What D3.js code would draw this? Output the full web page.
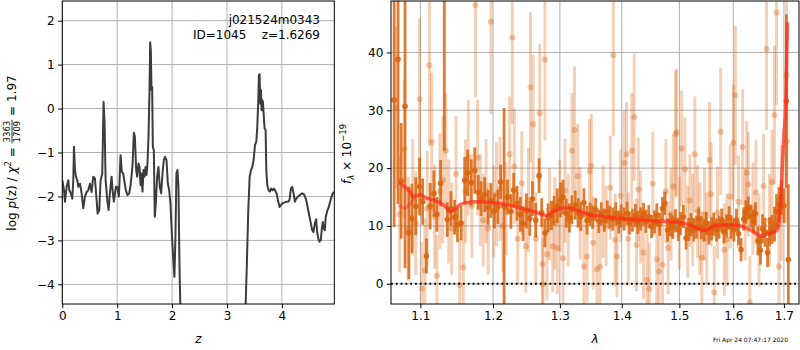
<!DOCTYPE html>
<html>
<head>
<meta charset="utf-8">
<script src="https://cdn.jsdelivr.net/npm/d3@7/dist/d3.min.js"></script>
<style>
  body { margin: 0; background: #fff; }
  svg { display: block; }
  text { font-family: "DejaVu Sans", sans-serif; fill: #000; }
</style>
</head>
<body>
<svg id="chart" width="800" height="350"></svg>
<script>
// ---- redshift probability curve ----
const zGrid = [0.000,0.031,0.049,0.079,0.109,0.128,0.158,0.182,0.200,0.213,0.231,0.249,0.273,0.291,0.322,0.352,0.382,0.413,0.443,0.473,
  0.504,0.534,0.564,0.595,0.625,0.643,0.673,0.698,0.728,0.752,0.770,0.789,0.819,0.843,0.867,0.898,0.916,0.940,0.976,1.001,
  1.031,1.061,1.085,1.110,1.128,1.158,1.188,1.219,1.249,1.279,1.304,1.322,1.346,1.364,1.389,1.407,1.425,1.443,1.461,1.479,
  1.498,1.516,1.534,1.552,1.570,1.589,1.601,1.613,1.625,1.637,1.649,1.667,1.685,1.704,1.728,1.752,1.776,1.801,1.825,1.849,
  1.873,1.898,1.922,1.946,1.970,1.995,2.019,2.043,2.061,2.079,2.098,2.116,2.134,2.152,2.180,2.250,2.400,2.600,2.800,3.000,
  3.150,3.250,3.310,3.340,3.364,3.388,3.413,3.437,3.461,3.485,3.510,3.534,3.552,3.570,3.582,3.594,3.607,3.619,3.631,3.643,
  3.655,3.667,3.685,3.704,3.716,3.734,3.758,3.782,3.807,3.831,3.855,3.879,3.904,3.928,3.958,3.982,4.006,4.043,4.079,4.116,
  4.140,4.164,4.188,4.213,4.237,4.261,4.297,4.334,4.370,4.406,4.443,4.479,4.516,4.552,4.576,4.601,4.625,4.643,4.661,4.685,
  4.710,4.728,4.746,4.764,4.782,4.800,4.831,4.855,4.879,4.904,4.928,4.950];
const logPz = [-1.63,-1.86,-2.12,-1.78,-1.63,-1.86,-1.93,-2.05,-1.63,-0.87,-1.40,-1.55,-1.63,-1.78,-1.71,-1.93,-2.27,-2.00,-1.90,-1.86,
  -1.71,-1.90,-1.55,-1.59,-2.08,-2.39,-2.31,-1.63,-1.48,0.15,-0.34,-1.63,-2.08,-2.31,-1.93,-1.55,-1.86,-2.12,-1.78,-1.78,
  -2.00,-1.06,-1.44,-1.48,-1.63,-1.86,-1.97,-1.93,-1.70,-1.30,-0.55,-0.64,-1.40,-1.55,-1.25,-1.33,-1.74,-1.48,-1.89,-1.40,
  -1.55,-1.33,-1.51,-1.25,-0.64,0.42,1.51,1.32,0.42,0.49,-0.87,-0.95,-2.46,-2.16,-1.55,-1.33,-1.78,-1.93,-1.48,-1.17,
  -1.10,-1.17,-1.70,-1.85,-2.16,-2.84,-3.37,-3.83,-2.92,-1.48,-1.40,-1.78,-3.52,-4.60,-6.50,-8.90,-11.2,-12.5,-13.0,-12.1,
  -10.4,-8.20,-6.00,-4.47,-3.45,-2.31,-1.55,-1.40,-1.33,-1.17,-0.83,-0.76,-0.42,0.19,0.76,0.78,0.11,0.42,-0.04,0.19,
  0.15,-0.11,-0.45,-0.49,-1.40,-1.74,-1.86,-1.89,-1.82,-1.86,-1.82,-1.87,-1.93,-2.08,-2.24,-2.20,-2.16,-2.14,-2.12,-2.12,
  -2.08,-1.82,-1.78,-1.93,-2.12,-2.05,-2.00,-1.96,-1.93,-1.96,-2.08,-2.31,-2.54,-2.77,-2.81,-2.61,-2.52,-2.81,-2.95,-3.03,
  -2.99,-2.73,-2.58,-2.73,-2.77,-2.46,-2.31,-2.24,-2.12,-2.01,-1.93,-1.90];
const zTicks = [0, 1, 2, 3, 4];
const logPzTicks = [-4, -3, -2, -1, 0, 1, 2];

// ---- 1D spectrum, well-exposed beam ----
const darkLam = [1.066,1.071,1.075,1.080,1.085,1.089,1.094,1.099,1.103,1.108,
  1.113,1.118,1.122,1.127,1.132,1.136,1.141,1.146,1.150,1.155,
  1.160,1.164,1.169,1.174,1.179,1.183,1.188,1.193,1.197,1.202,
  1.207,1.211,1.216,1.221,1.226,1.230,1.235,1.240,1.244,1.249,
  1.254,1.258,1.263,1.268,1.272,1.277,1.282,1.287,1.291,1.296,
  1.301,1.305,1.310,1.315,1.319,1.324,1.329,1.333,1.338,1.343,
  1.348,1.352,1.357,1.362,1.366,1.371,1.376,1.380,1.385,1.390,
  1.395,1.399,1.404,1.409,1.413,1.418,1.423,1.427,1.432,1.437,
  1.441,1.446,1.451,1.456,1.460,1.465,1.470,1.474,1.479,1.484,
  1.488,1.493,1.498,1.502,1.507,1.512,1.517,1.521,1.526,1.531,
  1.535,1.540,1.545,1.549,1.554,1.559,1.563,1.568,1.573,1.578,
  1.582,1.587,1.592,1.596,1.601,1.606,1.610,1.615,1.620,1.624,
  1.629,1.634,1.639,1.643,1.648,1.653,1.657,1.662,1.667,1.671,
  1.676,1.681,1.685,1.690,1.695,1.700,1.705,1.709];
const darkFlux = [31.8,38.8,17.8,30.7,8.8,11.3,13.4,16.8,14.2,4.8,
  13.4,15.6,12.0,17.4,50.0,11.1,13.0,11.5,10.2,10.5,
  17.9,19.2,17.5,19.6,15.8,14.7,15.4,13.2,14.4,12.6,
  13.3,17.6,13.4,15.0,12.5,16.2,13.9,12.0,10.4,12.6,
  11.3,14.7,11.0,18.7,12.3,8.8,11.4,11.8,12.7,13.5,
  14.5,15.0,12.2,11.4,12.8,13.6,12.3,11.6,14.0,11.0,
  12.0,11.5,12.8,10.8,12.1,11.0,12.4,11.5,11.2,12.1,
  10.7,11.7,11.2,12.2,10.5,11.0,11.8,10.6,11.2,12.0,
  10.8,11.6,9.9,10.7,11.9,10.3,13.0,13.9,9.3,10.2,
  9.8,10.9,9.4,10.4,11.6,7.9,9.4,10.2,9.3,9.8,
  11.2,9.7,9.3,10.4,8.8,9.5,10.3,9.3,9.8,11.0,
  9.0,10.0,11.4,9.8,9.3,11.0,8.7,5.9,11.2,12.4,
  13.1,11.7,10.8,12.1,7.4,5.8,9.5,8.9,5.4,9.0,
  9.4,10.3,12.5,13.7,14.9,13.5,31.6,4.2];
const darkErr = [22,25,10,28,8,6,5,5,4,3,
  4,4,3,4,27,3,3,3,3,3,
  4,4,4,4,3,3,3,3,3,3,
  3,3,17,3,3,3,3,3,3,3,
  3,3,3,3,2.5,2.5,2.5,2.5,2.5,3,
  3,3,2.5,2.5,2.5,2.5,2.5,2.5,2.5,2.5,
  2,2,2,2,2,2,2,2,2,2,
  2,2,2,2,2,2,2,2,2,2,
  2,2,2,2,2,2,2,2,2,2,
  2,2,2,2,2,2,2,2,2,2,
  2,2,2,2,2,2,2,2,2,2,
  2,2,2,2,2,2,2,2,2,2,
  2,2,2,2,2.5,2.5,2.5,2.5,2.5,2.5,
  2.5,3,3,3,3,3,15,13];

// ---- 1D spectrum, noisier beam ----
const lightLam = [1.068,1.073,1.079,1.084,1.090,1.094,1.099,1.102,1.106,1.109,
  1.112,1.115,1.119,1.122,1.126,1.130,1.134,1.138,1.142,1.148,
  1.153,1.158,1.161,1.165,1.170,1.175,1.178,1.182,1.186,1.190,
  1.193,1.197,1.201,1.205,1.210,1.214,1.219,1.224,1.228,1.231,
  1.236,1.242,1.248,1.252,1.255,1.259,1.263,1.269,1.273,1.274,
  1.277,1.280,1.284,1.289,1.292,1.296,1.300,1.305,1.308,1.313,
  1.319,1.323,1.328,1.332,1.338,1.343,1.347,1.350,1.353,1.359,
  1.364,1.369,1.374,1.381,1.386,1.389,1.392,1.398,1.404,1.408,
  1.411,1.417,1.421,1.425,1.428,1.432,1.437,1.443,1.447,1.453,
  1.460,1.464,1.470,1.476,1.480,1.485,1.489,1.493,1.495,1.500,
  1.504,1.510,1.515,1.519,1.524,1.528,1.533,1.537,1.541,1.546,
  1.550,1.555,1.558,1.564,1.570,1.576,1.583,1.588,1.594,1.600,
  1.604,1.610,1.618,1.623,1.626,1.629,1.632,1.638,1.644,1.650,
  1.659,1.665,1.671,1.676,1.681,1.685,1.690,1.695,1.705,1.706];
const lightFlux = [30.5,12.0,23.3,9.5,15.0,10.5,31.9,-0.8,2.3,13.0,
  37.8,24.5,11.6,1.4,16.0,18.0,23.0,12.5,9.5,19.0,
  -0.2,2.8,16.0,21.8,13.5,48.2,21.8,14.5,11.0,16.0,
  9.5,45.3,12.5,15.5,16.4,10.0,13.0,22.4,42.6,20.3,
  7.8,17.4,6.5,14.5,34.0,27.6,7.8,29.5,3.4,-0.1,
  38.8,5.1,12.0,6.5,10.5,6.2,13.5,4.4,16.1,11.0,
  23.0,26.6,18.6,12.2,3.0,4.7,19.5,20.4,7.1,2.5,
  3.0,12.5,10.0,16.6,39.5,7.6,4.7,15.2,20.9,22.4,
  7.8,23.0,28.8,6.7,16.3,11.5,5.4,0.7,-0.9,17.3,
  4.2,2.1,3.3,16.0,6.2,12.0,16.8,25.9,26.2,10.5,
  23.4,19.8,9.0,14.4,11.0,22.4,12.5,9.5,4.5,12.0,
  7.8,21.4,15.5,-1.5,12.3,26.3,5.9,7.6,15.1,24.4,
  32.6,14.2,23.6,12.0,19.2,17.2,-3.2,13.0,15.8,7.5,
  16.9,40.6,11.0,17.6,29.2,46.9,3.0,14.0,36.1,24.6];
const lightErr = [14,10,12,9,10,9,14,8,9,10,
  14,12,9,7,10,11,10,9,8,10,
  8,8,9,10,9,16,10,8,8,9,
  8,16,8,9,9,8,8,10,15,10,
  8,9,8,9,13,12,8,12,8,8,
  14,8,8,8,8,8,8,8,9,8,
  10,11,9,8,8,8,9,9,8,8,
  8,8,7,9,14,8,7,8,9,9,
  8,10,11,8,9,8,8,8,8,9,
  8,8,8,9,8,8,9,11,11,8,
  10,9,8,8,8,10,8,8,8,8,
  8,10,9,8,8,11,8,8,9,10,
  12,8,10,8,9,9,8,8,9,8,
  9,14,8,9,12,16,9,10,15,14];

// ---- best-fit model ----
const modelLam = [1.0736,1.0801,1.0857,1.0909,1.0996,1.1085,1.1173,1.1262,1.1353,1.1398,1.1443,1.1535,1.1627,1.1720,1.1815,
  1.2006,1.2200,1.2395,1.2593,1.2743,1.2794,1.2896,1.3051,1.3160,1.3318,1.3478,1.3641,1.3859,1.4193,1.4537,
  1.4889,1.5118,1.5301,1.5453,1.5606,1.5794,1.5984,1.6176,1.6370,1.6534,1.6633,1.6765,1.6866,1.6900,1.6934,
  1.6967,1.7001,1.7035,1.7072];
const modelFlux = [17.4,16.7,16.0,15.1,15.4,14.8,14.5,14.0,13.1,12.5,12.7,13.7,14.0,14.2,14.2,
  14.0,13.7,13.1,12.5,11.9,11.8,12.5,13.1,13.1,12.5,11.9,11.7,11.4,11.1,10.9,
  10.7,10.4,9.7,9.2,9.9,10.2,10.2,9.9,9.1,8.3,8.5,8.8,9.4,10.5,14.5,
  20.3,26.0,30.6,45.0];
const modelLamAlt = [1.0736,1.0801,1.0857,1.0909];
const modelFluxAlt = [13.4,13.1,13.7,14.5];
const lamTicks = [1.1, 1.2, 1.3, 1.4, 1.5, 1.6, 1.7];
const fluxTicks = [0, 10, 20, 30, 40];

const svg = d3.select("#chart");
const minusFmt = d => (d < 0 ? "\u2212" + Math.abs(d) : String(d));

function frame(g, x0, x1, y0, y1) {
  g.append("rect").attr("x", x0).attr("y", y0).attr("width", x1 - x0).attr("height", y1 - y0)
    .attr("fill", "none").attr("stroke", "#000").attr("stroke-width", 1);
}
function styleAxis(sel) {
  sel.select(".domain").remove();
  sel.selectAll(".tick line").attr("stroke", "#000").attr("stroke-width", 1);
  sel.selectAll(".tick text").style("font-size", "12px").style("font-family", "DejaVu Sans, sans-serif").attr("fill", "#000");
}

// ================= left panel: p(z) =================
const LP = { x0: 62.3, x1: 334.3, y0: 1, y1: 304 };
const xZ = d3.scaleLinear().domain([0, 4.955]).range([LP.x0, LP.x1]);
const yP = d3.scaleLinear().domain([-4.448, 2.448]).range([LP.y1, LP.y0]);

svg.append("clipPath").attr("id", "clipL").append("rect")
  .attr("x", LP.x0).attr("y", LP.y0).attr("width", LP.x1 - LP.x0).attr("height", LP.y1 - LP.y0);

const gL = svg.append("g");
gL.selectAll("line.gx").data(zTicks).join("line")
  .attr("x1", d => xZ(d)).attr("x2", d => xZ(d)).attr("y1", LP.y0).attr("y2", LP.y1)
  .attr("stroke", "#b0b0b0").attr("stroke-width", 1);
gL.selectAll("line.gy").data(logPzTicks).join("line")
  .attr("y1", d => yP(d)).attr("y2", d => yP(d)).attr("x1", LP.x0).attr("x2", LP.x1)
  .attr("stroke", "#b0b0b0").attr("stroke-width", 1);

const pzLine = d3.line().x(d => xZ(d[0])).y(d => yP(d[1]));
gL.append("path").datum(zGrid.map((z, i) => [z, logPz[i]]))
  .attr("clip-path", "url(#clipL)")
  .attr("d", pzLine).attr("fill", "none").attr("stroke", "#3c3c3c")
  .attr("stroke-width", 2).attr("stroke-linejoin", "round");

frame(gL, LP.x0, LP.x1, LP.y0, LP.y1);
gL.append("g").attr("transform", `translate(0,${LP.y1})`)
  .call(d3.axisBottom(xZ).tickValues(zTicks).tickSize(4.2).tickPadding(3.5).tickFormat(minusFmt))
  .call(styleAxis);
gL.append("g").attr("transform", `translate(${LP.x0},0)`)
  .call(d3.axisLeft(yP).tickValues(logPzTicks).tickSize(4.2).tickPadding(3.5).tickFormat(minusFmt))
  .call(styleAxis);

gL.append("text").attr("x", xZ.range()[0] + (LP.x1 - LP.x0) / 2).attr("y", 343)
  .attr("text-anchor", "middle").style("font-size", "12px").style("font-style", "italic").text("z");

gL.append("text").attr("x", 320).attr("y", 24).attr("text-anchor", "end")
  .style("font-size", "12px").text("j021524m0343");
gL.append("text").attr("x", 320).attr("y", 39).attr("text-anchor", "end")
  .style("font-size", "12px").style("white-space", "pre").text("ID=1045    z=1.6269");

// rotated label built from pieces laid out along the baseline
function pieceLabel(parent, cx, cy, pieces) {
  const outer = parent.append("g").attr("transform", `translate(${cx},${cy}) rotate(-90)`);
  const g = outer.append("g");
  let x = 0;
  pieces.forEach(p => {
    if (p.frac) {
      const fs = p.size;
      const tn = g.append("text").attr("y", p.numY).style("font-size", fs + "px").text(p.num);
      const td = g.append("text").attr("y", p.denY).style("font-size", fs + "px").text(p.den);
      const wn = tn.node().getComputedTextLength();
      const wd = td.node().getComputedTextLength();
      const w = Math.max(wn, wd) + 2;
      tn.attr("x", x + (w - wn) / 2);
      td.attr("x", x + (w - wd) / 2);
      g.append("line").attr("x1", x).attr("x2", x + w).attr("y1", p.barY).attr("y2", p.barY)
        .attr("stroke", "#000").attr("stroke-width", 0.8);
      x += w;
    } else {
      const t = g.append("text").attr("x", x).attr("y", p.dy || 0)
        .style("font-size", p.size + "px").style("font-style", p.italic ? "italic" : "normal")
        .style("white-space", "pre").text(p.text);
      x += t.node().getComputedTextLength();
    }
  });
  g.attr("transform", `translate(${-x / 2},0)`);
}

pieceLabel(svg, 16, 153, [
  { text: "log ", size: 12 },
  { text: "p", size: 12, italic: true },
  { text: "(z) / ", size: 12 },
  { text: "\u03c7", size: 12, italic: true },
  { text: "2", size: 8.5, dy: -5 },
  { text: " = ", size: 12 },
  { frac: true, num: "3363", den: "1709", size: 8.5, numY: -6, denY: 4, barY: -4 },
  { text: " = 1.97", size: 12 }
]);

// ================= right panel: spectrum =================
const RP = { x0: 391, x1: 799, y0: 1, y1: 304 };
const xL = d3.scaleLog().domain([1.062, 1.731]).range([RP.x0, RP.x1]);
const yF = d3.scaleLinear().domain([-3.5, 48.9]).range([RP.y1, RP.y0]);

svg.append("clipPath").attr("id", "clipR").append("rect")
  .attr("x", RP.x0).attr("y", RP.y0).attr("width", RP.x1 - RP.x0).attr("height", RP.y1 - RP.y0);

const gR = svg.append("g");
gR.selectAll("line.gx").data(lamTicks).join("line")
  .attr("x1", d => xL(d)).attr("x2", d => xL(d)).attr("y1", RP.y0).attr("y2", RP.y1)
  .attr("stroke", "#b0b0b0").attr("stroke-width", 1);
gR.selectAll("line.gy").data(fluxTicks).join("line")
  .attr("y1", d => yF(d)).attr("y2", d => yF(d)).attr("x1", RP.x0).attr("x2", RP.x1)
  .attr("stroke", "#b0b0b0").attr("stroke-width", 1);

const plot = gR.append("g").attr("clip-path", "url(#clipR)");
const orange = "#d9650f";

const light = lightLam.map((l, i) => ({ l, f: lightFlux[i], e: lightErr[i] }));
const dark = darkLam.map((l, i) => ({ l, f: darkFlux[i], e: darkErr[i] }));

plot.append("g").selectAll("line").data(light).join("line")
  .attr("x1", d => xL(d.l)).attr("x2", d => xL(d.l))
  .attr("y1", d => yF(d.f - d.e)).attr("y2", d => yF(d.f + d.e))
  .attr("stroke", orange).attr("stroke-opacity", 0.3).attr("stroke-width", 3);
plot.append("g").selectAll("circle").data(light).join("circle")
  .attr("cx", d => xL(d.l)).attr("cy", d => yF(d.f)).attr("r", 3)
  .attr("fill", orange).attr("fill-opacity", 0.35);

plot.append("g").selectAll("line").data(dark).join("line")
  .attr("x1", d => xL(d.l)).attr("x2", d => xL(d.l))
  .attr("y1", d => yF(d.f - d.e)).attr("y2", d => yF(d.f + d.e))
  .attr("stroke", orange).attr("stroke-opacity", 0.85).attr("stroke-width", 2.8);
plot.append("g").selectAll("circle").data(dark).join("circle")
  .attr("cx", d => xL(d.l)).attr("cy", d => yF(d.f)).attr("r", 2.8)
  .attr("fill", orange).attr("fill-opacity", 0.9);

const modelLine = d3.line().x(d => xL(d[0])).y(d => yF(d[1])).curve(d3.curveMonotoneX);
plot.append("path").datum(modelLamAlt.map((l, i) => [l, modelFluxAlt[i]]))
  .attr("d", modelLine).attr("fill", "none").attr("stroke", "#ff2a1a")
  .attr("stroke-opacity", 0.4).attr("stroke-width", 3.5).attr("stroke-linecap", "round");
plot.append("path").datum(modelLam.map((l, i) => [l, modelFlux[i]]))
  .attr("d", modelLine).attr("fill", "none").attr("stroke", "#ff2a1a")
  .attr("stroke-opacity", 0.7).attr("stroke-width", 3.5).attr("stroke-linecap", "round");

// zero level
plot.append("line").attr("x1", RP.x0).attr("x2", RP.x1).attr("y1", yF(0)).attr("y2", yF(0))
  .attr("stroke", "#000").attr("stroke-width", 1.8).attr("stroke-dasharray", "1.8,3");

frame(gR, RP.x0, RP.x1, RP.y0, RP.y1);
gR.append("g").attr("transform", `translate(0,${RP.y1})`)
  .call(d3.axisBottom(xL).tickValues(lamTicks).tickSize(4.2).tickPadding(3.5).tickFormat(d3.format(".1f")))
  .call(styleAxis);
gR.append("g").attr("transform", `translate(${RP.x0},0)`)
  .call(d3.axisLeft(yF).tickValues(fluxTicks).tickSize(4.2).tickPadding(3.5).tickFormat(minusFmt))
  .call(styleAxis);

gR.append("text").attr("x", (RP.x0 + RP.x1) / 2).attr("y", 343)
  .attr("text-anchor", "middle").style("font-size", "12px").style("font-style", "italic").text("\u03bb");

pieceLabel(svg, 351, 154, [
  { text: "f", size: 12, italic: true },
  { text: "\u03bb", size: 8.5, italic: true, dy: 2.5 },
  { text: " \u00d7 10", size: 12 },
  { text: "\u221219", size: 8.5, dy: -5 }
]);

svg.append("text").attr("x", 788).attr("y", 342).attr("text-anchor", "end")
  .style("font-size", "6px").text("Fri Apr 24 07:47:17 2020");
</script>
</body>
</html>
